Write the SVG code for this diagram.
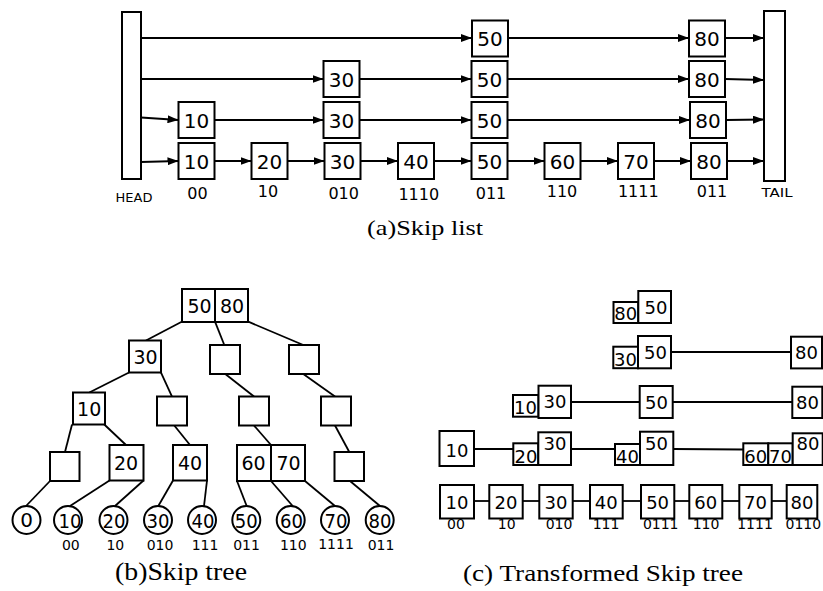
<svg xmlns="http://www.w3.org/2000/svg" width="823" height="591" viewBox="0 0 823 591">
<defs>
<marker id="ah" markerUnits="userSpaceOnUse" markerWidth="11" markerHeight="8" refX="11" refY="4" orient="auto">
<path d="M0,0 L11,4 L0,8 z" fill="#000"/>
</marker>
</defs>
<style>
.box{fill:#fff;stroke:#000;stroke-width:2}
.ln{stroke:#000;stroke-width:1.8;fill:none}
.arr{stroke:#000;stroke-width:1.8;fill:none;marker-end:url(#ah)}
.v{font-family:"DejaVu Sans",Verdana,sans-serif;text-anchor:middle;fill:#000}
.v20{font-size:20px}
.v19{font-size:19px}
.v18{font-size:18px}
.v16{font-size:16px}
.v14{font-size:14px}
.v13{font-size:13px}
.cap{font-family:"Liberation Serif","Times New Roman",serif;fill:#000}
</style>
<rect width="823" height="591" fill="#fff"/>

<!-- (a) Skip list -->
<g id="sl-connectors">
<line class="arr" x1="141" y1="38" x2="472" y2="38"/>
<line class="arr" x1="508" y1="38" x2="689" y2="38"/>
<line class="arr" x1="725" y1="38" x2="764" y2="38"/>
<line class="arr" x1="141" y1="79" x2="323.5" y2="79"/>
<line class="arr" x1="359.5" y1="79" x2="471.5" y2="79"/>
<line class="arr" x1="507.5" y1="79" x2="689" y2="79"/>
<line class="arr" x1="725" y1="79" x2="764" y2="80"/>
<line class="arr" x1="141" y1="117.5" x2="178.5" y2="120"/>
<line class="arr" x1="214.5" y1="120" x2="323.5" y2="120"/>
<line class="arr" x1="359.5" y1="120" x2="471.5" y2="120"/>
<line class="arr" x1="507.5" y1="120" x2="690" y2="120"/>
<line class="arr" x1="726" y1="120" x2="764" y2="119.5"/>
<line class="arr" x1="141" y1="162" x2="178.5" y2="161"/>
<line class="arr" x1="214.5" y1="161" x2="251.5" y2="161"/>
<line class="arr" x1="287.5" y1="161" x2="324.5" y2="161"/>
<line class="arr" x1="360.5" y1="161" x2="398" y2="161"/>
<line class="arr" x1="434" y1="161" x2="471.5" y2="161"/>
<line class="arr" x1="507.5" y1="161" x2="544.5" y2="161"/>
<line class="arr" x1="580.5" y1="161" x2="618" y2="161"/>
<line class="arr" x1="654" y1="161" x2="691" y2="161"/>
<line class="arr" x1="727" y1="161" x2="764" y2="161"/>
</g>
<g id="sl-head"><rect class="box" x="122" y="12" width="19" height="167"/><text class="v v13" x="134" y="201.5">HEAD</text></g>
<g id="sl-tail"><rect class="box" x="764" y="11" width="21" height="170"/><text class="v v13" x="777" y="196.5" textLength="31" lengthAdjust="spacingAndGlyphs">TAIL</text></g>
<g id="sl-r1-50"><rect class="box" x="472" y="20.5" width="36" height="36"/><text class="v v20" x="490" y="46">50</text></g>
<g id="sl-r1-80"><rect class="box" x="689" y="20.5" width="36" height="36"/><text class="v v20" x="707" y="46">80</text></g>
<g id="sl-r2-30"><rect class="box" x="323.5" y="61" width="36" height="36"/><text class="v v20" x="341.5" y="86.5">30</text></g>
<g id="sl-r2-50"><rect class="box" x="471.5" y="61" width="36" height="36"/><text class="v v20" x="489.5" y="86.5">50</text></g>
<g id="sl-r2-80"><rect class="box" x="689" y="61" width="36" height="36"/><text class="v v20" x="707" y="86.5">80</text></g>
<g id="sl-r3-10"><rect class="box" x="178.5" y="102" width="36" height="36"/><text class="v v20" x="196.5" y="128">10</text></g>
<g id="sl-r3-30"><rect class="box" x="323.5" y="102" width="36" height="36"/><text class="v v20" x="341.5" y="128">30</text></g>
<g id="sl-r3-50"><rect class="box" x="471.5" y="102" width="36" height="36"/><text class="v v20" x="489.5" y="128">50</text></g>
<g id="sl-r3-80"><rect class="box" x="690" y="102" width="36" height="36"/><text class="v v20" x="708" y="128">80</text></g>
<g id="sl-r4-10"><rect class="box" x="178.5" y="143" width="36" height="36"/><text class="v v20" x="196.5" y="169">10</text><text class="v v16" x="197.5" y="199.3">00</text></g>
<g id="sl-r4-20"><rect class="box" x="251.5" y="143" width="36" height="36"/><text class="v v20" x="269.5" y="169">20</text><text class="v v16" x="268" y="196.7">10</text></g>
<g id="sl-r4-30"><rect class="box" x="324.5" y="143" width="36" height="36"/><text class="v v20" x="342.5" y="169">30</text><text class="v v16" x="343.7" y="199.3">010</text></g>
<g id="sl-r4-40"><rect class="box" x="398" y="143" width="36" height="36"/><text class="v v20" x="416" y="169">40</text><text class="v v16" x="418.8" y="200">1110</text></g>
<g id="sl-r4-50"><rect class="box" x="471.5" y="143" width="36" height="36"/><text class="v v20" x="489.5" y="169">50</text><text class="v v16" x="491" y="199.3">011</text></g>
<g id="sl-r4-60"><rect class="box" x="544.5" y="143" width="36" height="36"/><text class="v v20" x="562.5" y="169">60</text><text class="v v16" x="562" y="197.3">110</text></g>
<g id="sl-r4-70"><rect class="box" x="618" y="143" width="36" height="36"/><text class="v v20" x="636" y="169">70</text><text class="v v16" x="638.3" y="196.7">1111</text></g>
<g id="sl-r4-80"><rect class="box" x="691" y="143" width="36" height="36"/><text class="v v20" x="709" y="169">80</text><text class="v v16" x="712" y="196.7">011</text></g>
<text class="cap" x="367" y="235" font-size="22" textLength="116" lengthAdjust="spacingAndGlyphs">(a)Skip list</text>

<!-- (b) Skip tree -->
<g id="st-connectors">
<line class="ln" x1="181.7" y1="321.7" x2="146" y2="340.5"/>
<line class="ln" x1="215" y1="321.7" x2="224.3" y2="345"/>
<line class="ln" x1="248.3" y1="321.7" x2="303.3" y2="345"/>
<line class="ln" x1="129" y1="372.5" x2="89.3" y2="392.5"/>
<line class="ln" x1="161" y1="372.5" x2="172" y2="396.5"/>
<line class="ln" x1="225.3" y1="374" x2="254" y2="396.5"/>
<line class="ln" x1="303.3" y1="374" x2="335" y2="396.5"/>
<line class="ln" x1="72" y1="424.5" x2="65" y2="452"/>
<line class="ln" x1="104.3" y1="424.5" x2="126" y2="445"/>
<line class="ln" x1="174.3" y1="425.5" x2="190" y2="445"/>
<line class="ln" x1="254" y1="425.5" x2="271" y2="445"/>
<line class="ln" x1="335" y1="425.5" x2="349.3" y2="452"/>
<line class="ln" x1="50" y1="481" x2="26" y2="506"/>
<line class="ln" x1="109.5" y1="480.5" x2="70" y2="506"/>
<line class="ln" x1="143.5" y1="480.5" x2="115" y2="506"/>
<line class="ln" x1="173" y1="480.5" x2="158.3" y2="506"/>
<line class="ln" x1="207" y1="480.5" x2="204" y2="506"/>
<line class="ln" x1="237" y1="481" x2="246.7" y2="506"/>
<line class="ln" x1="271" y1="481" x2="292.7" y2="506"/>
<line class="ln" x1="305" y1="481" x2="335" y2="506"/>
<line class="ln" x1="350" y1="481" x2="380" y2="506"/>
</g>
<g id="st-root"><rect class="box" x="182" y="289" width="33" height="33"/><rect class="box" x="215" y="289" width="33" height="33"/><text class="v v19" x="199.5" y="312.5">50</text><text class="v v19" x="232" y="312.5">80</text></g>
<g id="st-30"><rect class="box" x="129" y="340.5" width="32" height="32"/><text class="v v19" x="145.5" y="364">30</text></g>
<g id="st-e1"><rect class="box" x="210" y="345" width="30" height="29"/></g>
<g id="st-e2"><rect class="box" x="289" y="345" width="30" height="29"/></g>
<g id="st-10"><rect class="box" x="73" y="392.5" width="32" height="32"/><text class="v v19" x="89.2" y="416">10</text></g>
<g id="st-e3"><rect class="box" x="157" y="396.5" width="30" height="29"/></g>
<g id="st-e4"><rect class="box" x="239" y="396.5" width="30" height="29"/></g>
<g id="st-e5"><rect class="box" x="321" y="396.5" width="30" height="29"/></g>
<g id="st-e6"><rect class="box" x="50" y="452" width="29.5" height="29"/></g>
<g id="st-20"><rect class="box" x="109.5" y="445" width="34" height="35.5"/><text class="v v19" x="126" y="470">20</text></g>
<g id="st-40"><rect class="box" x="173" y="445" width="34" height="35.5"/><text class="v v19" x="190" y="470">40</text></g>
<g id="st-6070"><rect class="box" x="237" y="445" width="34" height="36"/><rect class="box" x="271" y="445" width="34" height="36"/><text class="v v19" x="253.5" y="470">60</text><text class="v v19" x="288.5" y="470">70</text></g>
<g id="st-e7"><rect class="box" x="334.5" y="452" width="29.5" height="29"/></g>
<g id="st-leaves">
<circle class="box" cx="26.5" cy="520" r="14"/><text class="v v20" x="26.5" y="527">0</text>
<circle class="box" cx="68" cy="520" r="14"/><text class="v v20" x="70" y="527.5" textLength="23" lengthAdjust="spacingAndGlyphs">10</text><text class="v v14" x="70.8" y="550">00</text>
<circle class="box" cx="113.5" cy="520" r="14"/><text class="v v20" x="114" y="527.5" textLength="23" lengthAdjust="spacingAndGlyphs">20</text><text class="v v14" x="115.3" y="550">10</text>
<circle class="box" cx="158" cy="520" r="14"/><text class="v v20" x="158" y="527.5" textLength="23" lengthAdjust="spacingAndGlyphs">30</text><text class="v v14" x="160" y="550">010</text>
<circle class="box" cx="202" cy="520" r="14"/><text class="v v20" x="203" y="527.5" textLength="23" lengthAdjust="spacingAndGlyphs">40</text><text class="v v14" x="205" y="550">111</text>
<circle class="box" cx="246.3" cy="520" r="14"/><text class="v v20" x="246.3" y="527.5" textLength="23" lengthAdjust="spacingAndGlyphs">50</text><text class="v v14" x="246.5" y="550">011</text>
<circle class="box" cx="290.7" cy="520" r="14"/><text class="v v20" x="291.5" y="527.5" textLength="23" lengthAdjust="spacingAndGlyphs">60</text><text class="v v14" x="293.3" y="550">110</text>
<circle class="box" cx="335" cy="520" r="14"/><text class="v v20" x="336" y="527.5" textLength="23" lengthAdjust="spacingAndGlyphs">70</text><text class="v v14" x="336" y="548.5">1111</text>
<circle class="box" cx="379.7" cy="520" r="14"/><text class="v v20" x="380" y="527.5" textLength="23" lengthAdjust="spacingAndGlyphs">80</text><text class="v v14" x="381" y="550">011</text>
</g>
<text class="cap" x="115" y="580" font-size="25" textLength="132" lengthAdjust="spacingAndGlyphs">(b)Skip tree</text>

<!-- (c) Transformed Skip tree -->
<g id="tt-connectors">
<line class="ln" x1="671" y1="352" x2="791" y2="352"/>
<line class="ln" x1="571" y1="402" x2="639.7" y2="402"/>
<line class="ln" x1="672.7" y1="402" x2="792.3" y2="402"/>
<line class="ln" x1="474" y1="449" x2="513.3" y2="449"/>
<line class="ln" x1="571" y1="449" x2="615" y2="449"/>
<line class="ln" x1="673.3" y1="449" x2="743.3" y2="449.5"/>
<line class="ln" x1="474" y1="501" x2="489.3" y2="501"/>
<line class="ln" x1="522.7" y1="501" x2="539.3" y2="501"/>
<line class="ln" x1="572.7" y1="501" x2="590" y2="501"/>
<line class="ln" x1="622.7" y1="501" x2="641" y2="501"/>
<line class="ln" x1="674.3" y1="501" x2="689.3" y2="501"/>
<line class="ln" x1="722.3" y1="501" x2="739.3" y2="501"/>
<line class="ln" x1="771.7" y1="501" x2="786.7" y2="501"/>
</g>
<g id="tt-r1"><rect class="box" x="613.5" y="302" width="24.8" height="21"/><text class="v v18" x="625.8" y="320">80</text><rect class="box" x="638.3" y="291" width="32.7" height="32"/><text class="v v18" x="656" y="313.5">50</text></g>
<g id="tt-r2-50"><rect class="box" x="613.3" y="346.7" width="24.7" height="21.5"/><text class="v v18" x="625.5" y="365.5">30</text><rect class="box" x="638" y="336" width="33" height="32.3"/><text class="v v18" x="655.5" y="358.5">50</text></g>
<g id="tt-r2-80"><rect class="box" x="791" y="336.7" width="31" height="31.7"/><text class="v v18" x="806.5" y="359">80</text></g>
<g id="tt-r3-30"><rect class="box" x="513" y="395" width="25.5" height="21.7"/><text class="v v18" x="525.5" y="414">10</text><rect class="box" x="538.5" y="385.7" width="32.5" height="32.3"/><text class="v v18" x="555" y="408.3">30</text></g>
<g id="tt-r3-50"><rect class="box" x="639.7" y="386" width="33" height="32"/><text class="v v18" x="656.5" y="409">50</text></g>
<g id="tt-r3-80"><rect class="box" x="792.3" y="386.7" width="30" height="31.3"/><text class="v v18" x="807.5" y="409">80</text></g>
<g id="tt-r4-10"><rect class="box" x="439.5" y="431" width="34.5" height="35"/><text class="v v18" x="457" y="456.5">10</text></g>
<g id="tt-r4-30"><rect class="box" x="513.3" y="443.3" width="25" height="21.7"/><text class="v v18" x="526" y="462.5">20</text><rect class="box" x="538.3" y="432.3" width="32.7" height="32.7"/><text class="v v18" x="555" y="450">30</text></g>
<g id="tt-r4-50"><rect class="box" x="615" y="444" width="25" height="21"/><text class="v v18" x="627.5" y="462.5">40</text><rect class="box" x="640" y="431.7" width="33.3" height="33.3"/><text class="v v18" x="656.5" y="450">50</text></g>
<g id="tt-r4-80"><rect class="box" x="743.3" y="443.3" width="25" height="21.7"/><text class="v v18" x="755.8" y="462.5">60</text><rect class="box" x="768.3" y="443.3" width="24.4" height="21.7"/><text class="v v18" x="780.5" y="462.5">70</text><rect class="box" x="792.7" y="433.3" width="30" height="31.7"/><text class="v v18" x="808" y="450">80</text></g>
<g id="tt-r5">
<rect class="box" x="440" y="485" width="34" height="33.5"/><text class="v v18" x="457" y="508.5">10</text><text class="v v14" x="456" y="529">00</text>
<rect class="box" x="489.3" y="485" width="33.4" height="33.5"/><text class="v v18" x="506" y="508.5">20</text><text class="v v14" x="506.7" y="529">10</text>
<rect class="box" x="539.3" y="485" width="33.4" height="33.5"/><text class="v v18" x="556" y="508.5">30</text><text class="v v14" x="559" y="529">010</text>
<rect class="box" x="590" y="485" width="32.7" height="33.5"/><text class="v v18" x="606.3" y="508.5">40</text><text class="v v14" x="606" y="529">111</text>
<rect class="box" x="641" y="485" width="33.3" height="33.5"/><text class="v v18" x="657.6" y="508.5">50</text><text class="v v14" x="660.7" y="529">0111</text>
<rect class="box" x="689.3" y="485" width="33" height="33.5"/><text class="v v18" x="705.8" y="508.5">60</text><text class="v v14" x="706" y="529">110</text>
<rect class="box" x="739.3" y="485" width="32.4" height="33.5"/><text class="v v18" x="755.5" y="508.5">70</text><text class="v v14" x="755" y="529">1111</text>
<rect class="box" x="786.7" y="485" width="30.6" height="33.5"/><text class="v v18" x="802" y="508.5">80</text><text class="v v14" x="803.3" y="529">0110</text>
</g>
<text class="cap" x="463" y="581" font-size="24" textLength="280" lengthAdjust="spacingAndGlyphs">(c) Transformed Skip tree</text>
</svg>
